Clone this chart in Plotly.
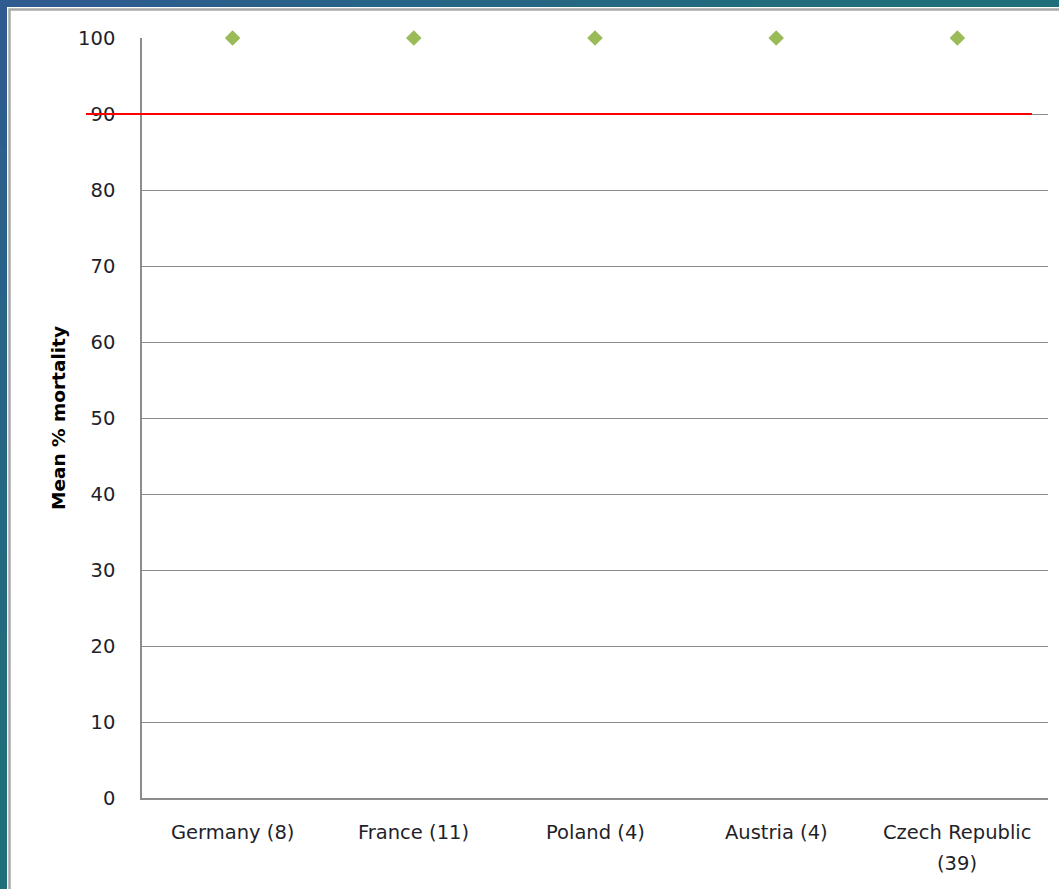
import plotly.graph_objects as go

# Data
countries = ["Germany (8)", "France (11)", "Poland (4)", "Austria (4)", "Czech Republic<br>(39)"]
mean_mortality = [100, 100, 100, 100, 100]
threshold = 90
y_ticks = [0, 10, 20, 30, 40, 50, 60, 70, 80, 90, 100]

# Canvas geometry (pixels)
W, H = 1059, 889
ML, MR, MT, MB = 142, 11, 38, 91
PW, PH = W - ML - MR, H - MT - MB


def px(x):
    return (x - ML) / PW


def py(y):
    return (H - MB - y) / PH


def mix(c1, c2, t):
    t = max(0.0, min(1.0, t))
    return "rgb({},{},{})".format(*[round(a + (b - a) * t) for a, b in zip(c1, c2)])


BLUE = (47, 91, 145)
TEAL = (31, 111, 122)
TEXT = "#1f1f2a"
FONT = "DejaVu Sans"

fig = go.Figure()

fig.add_trace(go.Scatter(
    x=list(range(len(countries))),
    y=mean_mortality,
    mode="markers",
    marker=dict(symbol="diamond", size=12, color="#9bbb59"),
    cliponaxis=False,
    showlegend=False,
))

shapes = []
# coloured frame around the white panel
n = 24
for i in range(n):
    x0, x1 = W * i / n, W * (i + 1) / n
    shapes.append(dict(type="rect", xref="paper", yref="paper",
                       x0=px(x0), x1=px(x1 + 1), y0=py(0), y1=py(7),
                       fillcolor=mix(BLUE, TEAL, (x0 + x1) / 2 / W * 1.15),
                       line=dict(width=0), layer="below"))
    y0, y1 = H * i / n, H * (i + 1) / n
    shapes.append(dict(type="rect", xref="paper", yref="paper",
                       x0=px(0), x1=px(7), y0=py(y0), y1=py(y1 + 1),
                       fillcolor=mix(BLUE, TEAL, (y0 + y1) / 2 / H * 1.15),
                       line=dict(width=0), layer="below"))
# white panel with grey border
shapes.append(dict(type="rect", xref="paper", yref="paper",
                   x0=px(7), x1=px(W + 20), y0=py(7), y1=py(H + 20),
                   fillcolor="white", line=dict(width=0), layer="below"))
shapes.append(dict(type="rect", xref="paper", yref="paper",
                   x0=px(9.5), x1=px(W + 20), y0=py(9.5), y1=py(H + 20),
                   fillcolor="rgba(0,0,0,0)", line=dict(color="#a9a9a9", width=2.5),
                   layer="below"))
# threshold line
shapes.append(dict(type="line", xref="paper", yref="y",
                   x0=px(86), x1=px(1032), y0=threshold, y1=threshold,
                   line=dict(color="#ff0000", width=2), layer="above"))

# category labels below the axis
annotations = []
for i, name in enumerate(countries):
    for j, line in enumerate(name.split("<br>")):
        annotations.append(dict(x=i, xref="x", y=0, yref="paper",
                                text=line, showarrow=False,
                                yanchor="middle", yshift=-34 - 31 * j,
                                font=dict(family=FONT, size=19.5, color=TEXT)))

fig.update_layout(
    width=W, height=H,
    margin=dict(l=ML, r=MR, t=MT, b=MB, pad=0),
    paper_bgcolor="white",
    plot_bgcolor="white",
    shapes=shapes,
    annotations=annotations,
    showlegend=False,
    xaxis=dict(
        range=[-0.5, len(countries) - 0.5],
        showticklabels=False,
        showgrid=False,
        zeroline=False,
        showline=True, linecolor="#8c8c8c", linewidth=1.6,
        ticks="",
        fixedrange=True,
    ),
    yaxis=dict(
        range=[0, 100],
        tickvals=y_ticks,
        showgrid=True, gridcolor="#8c8c8c", gridwidth=1.4,
        zeroline=False,
        showline=True, linecolor="#8c8c8c", linewidth=1.6,
        ticks="",
        ticklabelstandoff=21,
        tickfont=dict(family=FONT, size=19.5, color=TEXT),
        title=dict(text="<b>Mean % mortality</b>", standoff=8,
                   font=dict(family=FONT, size=18.5, color="#000000")),
        fixedrange=True,
    ),
)

fig.write_html("out.html")
